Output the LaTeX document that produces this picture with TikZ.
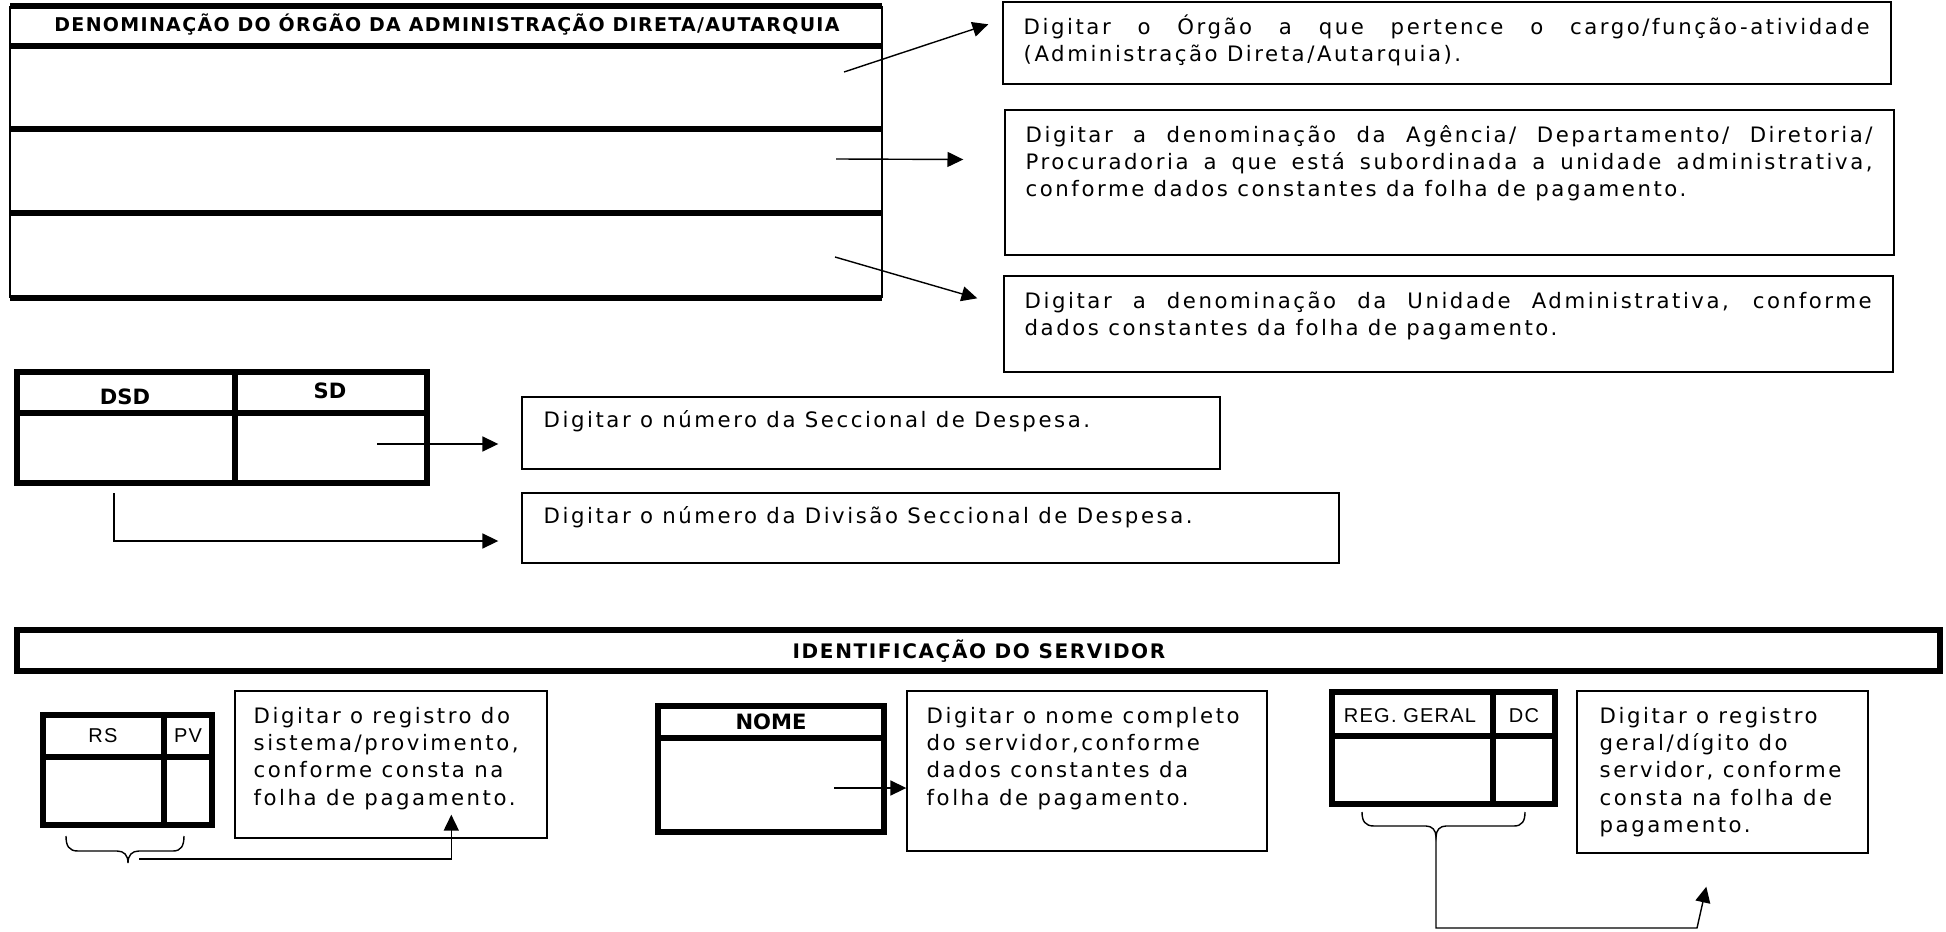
\documentclass[tikz,border=0pt]{standalone}
\usepackage{fontspec}
\setmainfont{DejaVu Sans}
\newfontfamily\arialfam{Liberation Sans}
\usetikzlibrary{arrows.meta,calc,fit}

\newcommand{\corpo}{\fontsize{12.1}{15.5}\selectfont\addfontfeatures{LetterSpace=12}}

\tikzset{
  grossa/.style={line width=3.2pt},
  fina/.style={line width=1.1pt},
  caixa/.style={draw,line width=0.8pt,inner sep=0pt},
  texto/.style={anchor=base west,inner sep=0pt,font=\corpo},
  seta/.style={line width=0.8pt,-{Triangle[length=9pt,width=8.5pt]}},
  titulo/.style={inner sep=0pt,font=\bfseries\fontsize{12}{14}\selectfont},
  titulop/.style={inner sep=0pt,font=\bfseries\fontsize{10.8}{13}\selectfont\addfontfeatures{LetterSpace=7}},
  rotulo/.style={inner sep=0pt,font=\arialfam\fontsize{11.4}{13}\selectfont\addfontfeatures{LetterSpace=6}},
  chave/.style={line width=0.8pt}
}

\begin{document}
\begin{tikzpicture}[x=0.02cm,y=-0.02cm]
\useasboundingbox (0,0) rectangle (1946,932);
% quadro do orgao
\draw[fina] (10,6) -- (10,298) (882,6) -- (882,298);
\foreach \y in {6,46,129,213,298} \draw[grossa,line width=3.4pt] (10,\y) -- (882,\y);
\node[titulop] (tOrgao) at (447,25) {DENOMINAÇÃO DO ÓRGÃO DA ADMINISTRAÇÃO DIRETA/AUTARQUIA};

\node[caixa,fit={(1003,2) (1891,84)}] (cxOrgao) {};
\node[texto] (dOrgao) at ($(cxOrgao.north west)+(21,33)$) {\parbox[t]{16.92cm}{Digitar o Órgão a que pertence o cargo/função-atividade\linebreak (Administração Direta/Autarquia).}};
\node[caixa,fit={(1005,110) (1894,255)}] (cxDepto) {};
\node[texto] (dDepto) at ($(cxDepto.north west)+(21,33)$) {\parbox[t]{16.94cm}{Digitar a denominação da Agência/ Departamento/ Diretoria/\linebreak Procuradoria a que está subordinada a unidade administrativa,\linebreak conforme dados constantes da folha de pagamento.}};
\node[caixa,fit={(1004,276) (1893,372)}] (cxUnid) {};
\node[texto] (dUnid) at ($(cxUnid.north west)+(21,33)$) {\parbox[t]{16.94cm}{Digitar a denominação da Unidade Administrativa, conforme\linebreak dados constantes da folha de pagamento.}};

\coordinate (iOrgao) at (844,72);
\coordinate (iDepto) at (836,159);
\coordinate (iUnid) at (835,257);
\draw[seta] (iOrgao) -- ($(cxOrgao.north west)+(-14,23)$);
\draw[seta] (iDepto) -- ($(cxDepto.west)+(-41,-23)$);
\draw[seta] (iUnid) -- ($(cxUnid.north west)+(-26,23)$);

% DSD / SD
\draw[grossa] (17,372) rectangle (427,483);
\draw[grossa] (17,413) -- (427,413) (235,372) -- (235,483);
\node[titulo] (tDSD) at (125,397) {DSD};
\node[titulo] (tSD) at (330,391) {SD};

\node[caixa,fit={(522,397) (1220,469)}] (cxSecc) {};
\node[texto] (dSecc) at ($(cxSecc.north west)+(22,31)$) {Digitar o número da Seccional de Despesa.};
\node[caixa,fit={(522,493) (1339,563)}] (cxDiv) {};
\node[texto] (dDiv) at ($(cxDiv.north west)+(22,31)$) {Digitar o número da Divisão Seccional de Despesa.};

\coordinate (iSD) at (377,444);
\coordinate (iDSD) at (114,493);
\draw[seta] (iSD) -- ($(cxSecc.west)+(-23,11)$);
\draw[seta] (iDSD) |- ($(cxDiv.west)+(-23,13)$);

% identificacao do servidor
\draw[grossa] (17,630) rectangle (1940,671);
\node[titulo,font=\bfseries\fontsize{11.4}{13}\selectfont\addfontfeatures{LetterSpace=8}] (tServ) at (979,651) {IDENTIFICAÇÃO DO SERVIDOR};

% RS / PV
\draw[grossa] (43,715) rectangle (212,825);
\draw[grossa] (43,757) -- (212,757) (164,715) -- (164,825);
\node[rotulo] (tRS) at (103,736) {RS};
\node[rotulo] (tPV) at (188,736) {PV};
\node[caixa,fit={(235,691) (547,838)}] (cxRegSis) {};
\node[texto] (dRegSis) at ($(cxRegSis.north west)+(19,33)$) {\parbox[t]{6cm}{\raggedright Digitar o registro do\\ sistema/provimento,\\ conforme consta na\\ folha de pagamento.}};
\draw[chave] (66,836) .. controls (66,846) and (69,851) .. (78,851) -- (117,851) .. controls (124,851) and (128,855) .. (128,863) .. controls (128,855) and (132,851) .. (139,851) -- (173,851) .. controls (181,851) and (184,846) .. (184,836);
\coordinate (iRS) at (139,859);
\draw[seta] (iRS) -| ($(cxRegSis.south west)+(217,-24)$);

% NOME
\draw[grossa] (658,706) rectangle (884,832);
\draw[grossa] (658,738) -- (884,738);
\node[titulo] (tNome) at (771,722) {NOME};
\node[caixa,fit={(907,691) (1267,851)}] (cxNome) {};
\node[texto] (dNome) at ($(cxNome.north west)+(20,33)$) {\parbox[t]{6.8cm}{\raggedright Digitar o nome completo\\ do servidor,conforme\\ dados constantes da\\ folha de pagamento.}};
\coordinate (iNome) at (834,788);
\draw[seta] (iNome) -- (iNome -| cxNome.west);

% REG. GERAL / DC
\draw[grossa] (1332,692) rectangle (1555,804);
\draw[grossa] (1332,736) -- (1555,736) (1493,692) -- (1493,804);
\node[rotulo] (tReg) at (1410,716) {REG. GERAL};
\node[rotulo] (tDC) at (1524,716) {DC};
\node[caixa,fit={(1577,691) (1868,853)}] (cxRegGeral) {};
\node[texto] (dRegGeral) at ($(cxRegGeral.north west)+(23,33)$) {\parbox[t]{5.4cm}{\raggedright Digitar o registro\\ geral/dígito do\\ servidor, conforme\\ consta na folha de\\ pagamento.}};
\draw[chave] (1362,812) .. controls (1362,821) and (1365,826) .. (1374,826) -- (1426,826) .. controls (1432,826) and (1436,830) .. (1436,837) .. controls (1436,830) and (1440,826) .. (1446,826) -- (1514,826) .. controls (1522,826) and (1525,821) .. (1525,812);
\coordinate (iReg) at (1436,837);
\draw[seta] (iReg) |- (1697,928) -- ($(cxRegGeral.south west)+(130,33)$);
\end{tikzpicture}
\end{document}
